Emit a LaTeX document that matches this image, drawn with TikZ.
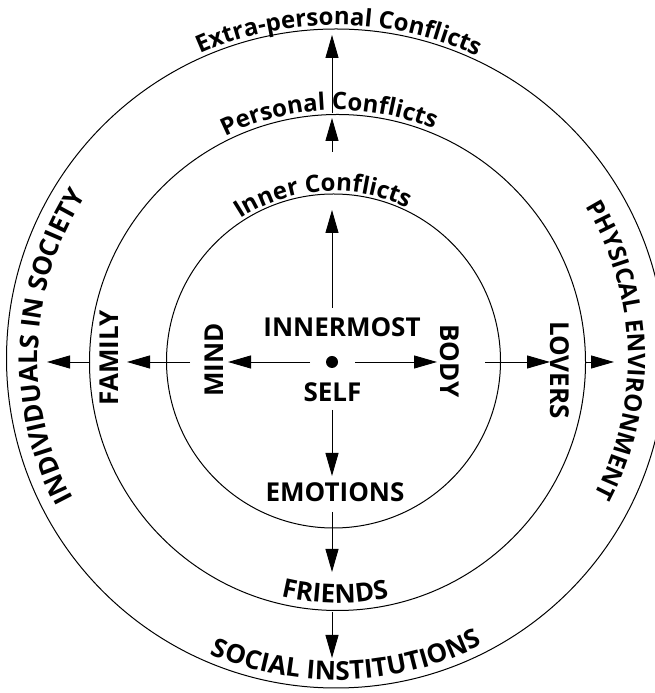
\documentclass[tikz,border=0pt]{standalone}
\usepackage{fontspec}
\setmainfont{Open Sans}
\usetikzlibrary{arrows.meta,decorations.text}
\newcommand\lbf{\fontsize{24}{29}\selectfont\bfseries}
\newcommand\cbf{\fontsize{26}{31}\selectfont\bfseries}
\begin{document}
\begin{tikzpicture}[x=1pt,y=1pt,
  ring/.style={line width=1pt},
  arr/.style={line width=0.9pt,-{Triangle[length=23pt,width=13pt]}},
  lab/.style={font=\cbf, inner sep=0pt},
  curved/.style={decorate,decoration={text along path,text align=center,text={|\lbf|#1}}},
  curvedc/.style={decorate,decoration={text along path,text align=center,text={|\cbf|#1}}}
]
\useasboundingbox (0,0) rectangle (655,693);
\coordinate (Co) at (336,334.5);
\coordinate (Cm) at (337.5,330.5);
\coordinate (Ci) at (333.5,332);
\draw[ring] (Co) circle[radius=329.5];
\draw[ring] (Cm) circle[radius=248];
\draw[ring] (Ci) circle[radius=167];

% curved labels
\path[curved={Extra-personal Conflicts}] (Co) ++(134.5:333.5) arc[start angle=134.5,end angle=44.5,radius=333.5];
\path[curved={Personal Conflicts}] (Cm) ++(132:252.5) arc[start angle=132,end angle=52,radius=252.5];
\path[curved={Inner Conflicts}] (Ci) ++(143.7:170) arc[start angle=143.7,end angle=43.7,radius=170];
\path[curvedc={FRIENDS}] (Cm) ++(239.4:240.5) arc[start angle=239.4,end angle=299.4,radius=240.5];
\path[curvedc={SOCIAL INSTITUTIONS}] (Co) ++(237:321.5) arc[start angle=237,end angle=307,radius=321.5];
\path[curvedc={INDIVIDUALS IN SOCIETY}] (Co) ++(217.5:298) arc[start angle=217.5,end angle=137.5,radius=298];
\path[curved={PHYSICAL ENVIRONMENT}] (Co) ++(41.7:292) arc[start angle=41.7,end angle=-38.3,radius=292];

% straight labels
\node[circle, fill, inner sep=0pt, minimum size=12pt] (self) at (332,331) {};
\node[lab, anchor=base] (innermost) at (342,356) {INNERMOST};
\node[lab, anchor=base] (selfl) at (332.5,291) {SELF};
\node[lab, anchor=base] (emo) at (335,191) {EMOTIONS};
\node[lab, anchor=base, rotate=90] (mind) at (223,333) {MIND};
\node[lab, anchor=base, rotate=90] (family) at (118,335) {FAMILY};
\node[lab, anchor=base, rotate=-90] (body) at (440,332) {BODY};
\node[lab, anchor=base, rotate=-90] (lovers) at (550,323) {LOVERS};

% arrow end points
\coordinate (u1s) at (332,385); \coordinate (u1e) at (332,483);
\coordinate (u2s) at (332,541); \coordinate (u2e) at (332,575);
\coordinate (u3s) at (332,580); \coordinate (u3e) at (332,658);
\coordinate (l1s) at (310,331); \coordinate (l1e) at (228,331);
\coordinate (l2s) at (190,331); \coordinate (l2e) at (127,331);
\coordinate (l3s) at (90,331);  \coordinate (l3e) at (47,331);
\coordinate (r1s) at (355,331); \coordinate (r1e) at (437,331);
\coordinate (r2s) at (485,331); \coordinate (r2e) at (550,331);
\coordinate (r3s) at (585,331); \coordinate (r3e) at (614,331);
\coordinate (d1s) at (332,283); \coordinate (d1e) at (332,217);
\coordinate (d2s) at (332,181); \coordinate (d2e) at (332,121);
\coordinate (d3s) at (332,81);  \coordinate (d3e) at (332,35);
\foreach \a in {u1,u2,u3,l1,l2,l3,r1,r2,r3,d1,d2,d3}
  \draw[arr] (\a s) -- (\a e);
\end{tikzpicture}
\end{document}
